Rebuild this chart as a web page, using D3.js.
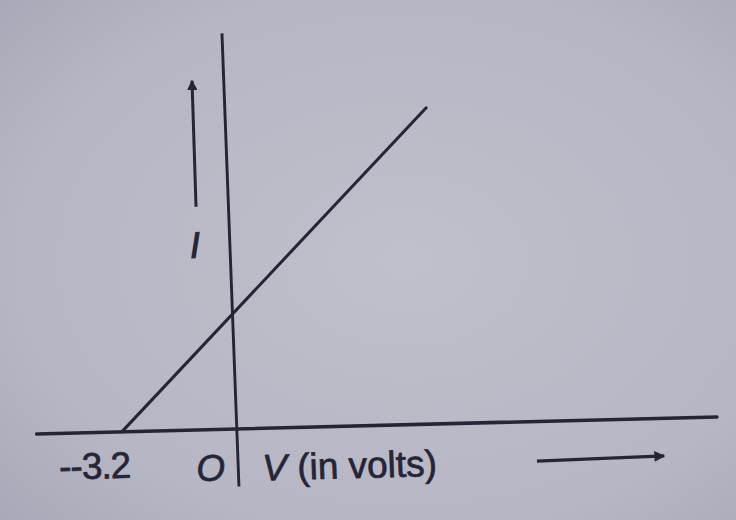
<!DOCTYPE html>
<html>
<head>
<meta charset="utf-8">
<script src="https://cdn.jsdelivr.net/npm/d3@7"></script>
<style>
  html, body { margin: 0; padding: 0; background: #b9b9c6; }
  svg { display: block; }
</style>
</head>
<body>
<svg id="chart" width="736" height="520"></svg>
<script>
// ---- data ----
const voltage = [-3.2, 5.6];          // V (in volts), end points of the I–V line
const current = [0, 2.75];            // I (relative units), matching end points
const xAxisExtent = [-5.57, 13.36];   // horizontal axis span (volts)
const yAxisExtent = [-0.5, 3.44];     // vertical axis span (current units)
const xTickLabels = ["--3.2"];
const originLabel = "O";
const xAxisTitle = "V (in volts)";
const yAxisTitle = "I";

const ink = "#262536";
const svg = d3.select("#chart");

// background with soft photo-like shading
const defs = svg.append("defs");
const rg = defs.append("radialGradient").attr("id", "bg")
  .attr("cx", "55%").attr("cy", "50%").attr("r", "75%");
rg.append("stop").attr("offset", "0%").attr("stop-color", "#c0c0cc");
rg.append("stop").attr("offset", "70%").attr("stop-color", "#b6b6c4");
rg.append("stop").attr("offset", "100%").attr("stop-color", "#a8a8b8");
svg.append("rect").attr("width", 736).attr("height", 520).attr("fill", "url(#bg)");

defs.append("marker").attr("id", "arrow")
  .attr("viewBox", "0 0 10 10").attr("refX", 9).attr("refY", 5)
  .attr("markerWidth", 4.2).attr("markerHeight", 3.4)
  .attr("markerUnits", "strokeWidth")
  .attr("orient", "auto")
  .append("path").attr("d", "M0,0 L10,5 L0,10 Z").attr("fill", ink);

// slightly skewed frame (photographed page)
const g = svg.append("g")
  .attr("transform", "matrix(1,-0.025,0.0375,1,236.8,429)");

const x = d3.scaleLinear().domain([-3.2, 0]).range([-115, 0]);
const y = d3.scaleLinear().domain([0, 1]).range([0, -115]);

// axes
g.append("line")
  .attr("x1", x(xAxisExtent[0])).attr("y1", y(0))
  .attr("x2", x(xAxisExtent[1])).attr("y2", y(0))
  .attr("stroke", ink).attr("stroke-width", 3.6).attr("stroke-linecap", "round");
g.append("line")
  .attr("x1", x(0)).attr("y1", y(yAxisExtent[0]))
  .attr("x2", x(0)).attr("y2", y(yAxisExtent[1]))
  .attr("stroke", ink).attr("stroke-width", 2.9).attr("stroke-linecap", "butt");

// I–V line
const pts = voltage.map((v, i) => [v, current[i]]);
g.append("path")
  .datum(pts)
  .attr("d", d3.line().x(d => x(d[0])).y(d => y(d[1])))
  .attr("fill", "none").attr("stroke", ink).attr("stroke-width", 3)
  .attr("stroke-linecap", "round");

// I direction arrow
g.append("line")
  .attr("x1", -32.4).attr("y1", -223)
  .attr("x2", -31.7).attr("y2", -349)
  .attr("stroke", ink).attr("stroke-width", 3)
  .attr("marker-end", "url(#arrow)");

// V direction arrow
g.append("line")
  .attr("x1", 298.7).attr("y1", 39.5)
  .attr("x2", 426).attr("y2", 37.6)
  .attr("stroke", ink).attr("stroke-width", 3.2)
  .attr("marker-end", "url(#arrow)");

const font = "'Liberation Sans', Arial, Helvetica, sans-serif";

// labels
g.append("text")
  .attr("x", -179).attr("y", 46)
  .attr("font-family", font).attr("font-size", 37)
  .attr("fill", ink).attr("stroke", ink).attr("stroke-width", 0.7)
  .attr("letter-spacing", -1)
  .text(xTickLabels[0]);

g.append("text")
  .attr("x", -42).attr("y", 51)
  .attr("font-family", font).attr("font-size", 37).attr("font-style", "italic")
  .attr("fill", ink).attr("stroke", ink).attr("stroke-width", 0.7)
  .text(originLabel);

const t = g.append("text")
  .attr("x", 24).attr("y", 52)
  .attr("font-family", font).attr("font-size", 37)
  .attr("fill", ink).attr("stroke", ink).attr("stroke-width", 0.7);
t.append("tspan").attr("font-style", "italic").text(xAxisTitle.slice(0, 1));
t.append("tspan").text(xAxisTitle.slice(1));

g.append("text")
  .attr("x", -40).attr("y", -172)
  .attr("font-family", font).attr("font-size", 37).attr("font-style", "italic")
  .attr("fill", ink).attr("stroke", ink).attr("stroke-width", 0.9)
  .text(yAxisTitle);
</script>
</body>
</html>
